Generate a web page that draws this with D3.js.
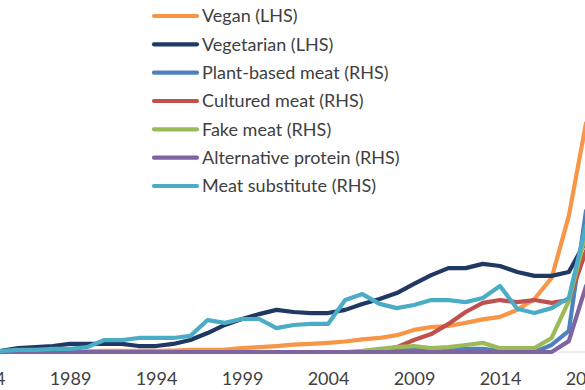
<!DOCTYPE html>
<html>
<head>
<meta charset="utf-8">
<script src="https://cdn.jsdelivr.net/npm/d3@7"></script>
<style>
  html, body { margin: 0; padding: 0; background: #fff; }
  svg { display: block; }
  text { font-family: Lato, "Open Sans", sans-serif; fill: #404040; }
</style>
</head>
<body>
<svg id="chart"></svg>
<script>
const years = d3.range(1984, 2020);
const tickYears = [1984, 1989, 1994, 1999, 2004, 2009, 2014, 2019];

// LHS series (index units)
const vegan = [0, 0, 0, 0, 0, 0, 0.2, 0.3, 0.3, 0.3, 0.3, 0.4, 0.6, 0.6, 0.7, 1.1, 1.4, 1.7, 2.1, 2.3, 2.6, 3.0, 3.6, 4.0, 4.8, 6.3, 7.1, 7.4, 8.3, 9.3, 10.0, 12.0, 15.1, 21.1, 38.7, 65.2];
const vegetarian = [0.1, 0.3, 1.1, 1.4, 1.7, 2.3, 2.3, 2.3, 2.3, 1.7, 1.7, 2.3, 3.4, 5.4, 7.7, 9.4, 10.8, 12.0, 11.4, 11.1, 11.1, 12.0, 13.7, 15.1, 16.8, 19.4, 21.9, 23.9, 23.9, 25.1, 24.5, 22.8, 21.7, 21.7, 22.8, 31.6];

// RHS series (index units)
const plantBased = [0, 0, 0, 0, 0, 0, 0, 0, 0, 0, 0, 0, 0, 0, 0, 0, 0, 0, 0, 0, 0, 0, 0, 0, 0.03, 0.09, 0.06, 0.06, 0.09, 0.09, 0.03, 0, 0, 0.2, 0.6, 4.02];
const cultured = [0, 0, 0, 0, 0, 0, 0, 0, 0, 0, 0, 0, 0, 0, 0, 0, 0, 0, 0, 0, 0, 0, 0, 0.03, 0.14, 0.34, 0.51, 0.8, 1.14, 1.4, 1.48, 1.42, 1.48, 1.4, 1.48, 2.88];
const fakeMeat = [0, 0, 0, 0, 0, 0, 0, 0, 0, 0, 0, 0, 0, 0, 0, 0, 0, 0, 0, 0, 0, 0, 0.03, 0.09, 0.14, 0.17, 0.11, 0.14, 0.2, 0.26, 0.11, 0.11, 0.11, 0.4, 1.45, 3.39];
const altProtein = [0, 0, 0, 0, 0, 0, 0, 0, 0, 0, 0, 0, 0, 0, 0, 0, 0, 0, 0, 0, 0, 0, 0, 0, 0, 0, 0, 0, 0, 0, 0, 0, 0, 0, 0.31, 1.88];
const meatSub = [0, 0.03, 0.06, 0.06, 0.09, 0.09, 0.14, 0.34, 0.34, 0.4, 0.4, 0.4, 0.46, 0.91, 0.83, 0.94, 0.94, 0.68, 0.77, 0.8, 0.8, 1.48, 1.65, 1.37, 1.25, 1.34, 1.48, 1.48, 1.42, 1.54, 1.88, 1.23, 1.11, 1.25, 1.54, 3.6];

const seriesNames = ['Vegan (LHS)', 'Vegetarian (LHS)', 'Plant-based meat (RHS)', 'Cultured meat (RHS)', 'Fake meat (RHS)', 'Alternative protein (RHS)', 'Meat substitute (RHS)'];
const seriesColors = ['#F79646', '#203864', '#4F81BD', '#C0504D', '#9BBB59', '#8064A2', '#4BACC6'];
const seriesAxis = ['L', 'L', 'R', 'R', 'R', 'R', 'R'];
const seriesValues = [vegan, vegetarian, plantBased, cultured, fakeMeat, altProtein, meatSub];

const width = 585;
const height = 390;

const svg = d3.select('#chart').attr('width', width).attr('height', height);

const x = d3.scaleLinear().domain([1984, 2019]).range([-16, 586]);
const yL = d3.scaleLinear().domain([0, 100]).range([352, 1]);
const yR = d3.scaleLinear().domain([0, 10]).range([352, 1]);

// category axis
svg.append('line')
  .attr('x1', 0).attr('x2', width)
  .attr('y1', yL(0)).attr('y2', yL(0))
  .attr('stroke', '#d9d9d9').attr('stroke-width', 1);

const xAxis = d3.axisBottom(x).tickValues(tickYears).tickFormat(d3.format('d')).tickSize(0).tickPadding(0);
const gx = svg.append('g').attr('transform', 'translate(0,' + 370 + ')').call(xAxis);
gx.select('.domain').remove();
gx.selectAll('text')
  .attr('dy', 0).attr('y', 15)
  .style('font-size', '18px')
  .style('font-family', 'Lato, "Open Sans", sans-serif')
  .attr('fill', '#404040');

// lines
const series = seriesNames.map((name, i) => ({
  name: name,
  color: seriesColors[i],
  y: seriesAxis[i] === 'L' ? yL : yR,
  values: seriesValues[i].map((v, j) => ({ year: years[j], value: v }))
}));

const plot = svg.append('g').attr('id', 'lines');
plot.selectAll('.series')
  .data(series)
  .enter()
  .append('path')
  .attr('class', 'series')
  .attr('fill', 'none')
  .attr('stroke', d => d.color)
  .attr('stroke-width', 4.2)
  .attr('stroke-linejoin', 'round')
  .attr('stroke-linecap', 'round')
  .attr('d', d => d3.line().x(p => x(p.year)).y(p => d.y(p.value))(d.values));

// legend
const legend = svg.append('g').attr('id', 'legend');
const legendY = d3.scalePoint().domain(seriesNames).range([16, 186]);
const item = legend.selectAll('.item')
  .data(series)
  .enter()
  .append('g')
  .attr('class', 'item')
  .attr('transform', d => 'translate(0,' + legendY(d.name) + ')');
item.append('line')
  .attr('x1', 154).attr('x2', 197)
  .attr('stroke', d => d.color)
  .attr('stroke-width', 4.2)
  .attr('stroke-linecap', 'round');
item.append('text')
  .attr('x', 202)
  .attr('dy', '0.36em')
  .style('font-size', '18px')
  .text(d => d.name);
</script>
</body>
</html>
